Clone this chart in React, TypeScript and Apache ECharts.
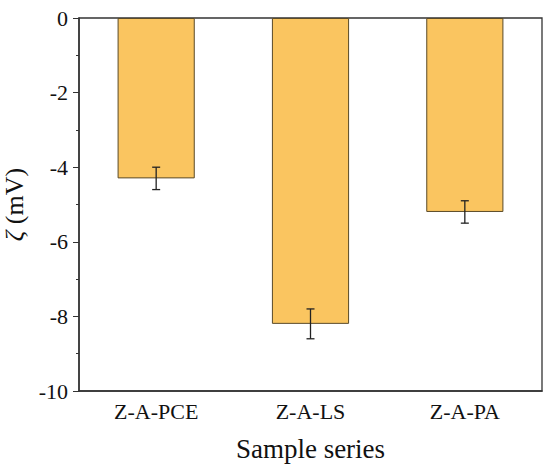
import React, { useEffect, useRef } from "react";
import * as echarts from "echarts";

const categories = ["Z-A-PCE", "Z-A-LS", "Z-A-PA"];
const zetaValues = [-4.3, -8.2, -5.2];
const zetaErrors = [0.3, 0.4, 0.3];
const yTicks = { min: -10, max: 0, interval: 2 };

const FONT = "'Liberation Serif', 'DejaVu Serif', serif";

export default function App() {
  const ref = useRef<HTMLDivElement>(null);
  useEffect(() => {
    if (!ref.current) return;
    const chart = echarts.init(ref.current, undefined, { renderer: "svg" });
    const errData = zetaValues.map((v, i) => [i, v - zetaErrors[i], v + zetaErrors[i]]);
    chart.setOption({
      animation: false,
      backgroundColor: "#fff",
      grid: {
        left: 79,
        top: 18,
        right: 8,
        bottom: 81,
        containLabel: false,
        outerBoundsMode: "none",
        show: true,
        borderColor: "#333",
        borderWidth: 1.3,
      },
      xAxis: {
        type: "category",
        data: categories,
        axisLine: { onZero: false, lineStyle: { color: "#333", width: 1.5 } },
        axisTick: { alignWithLabel: true, length: 5, lineStyle: { color: "#333" } },
        axisLabel: { color: "#111", fontFamily: FONT, fontSize: 22, margin: 9 },
        name: "Sample series",
        nameLocation: "middle",
        nameGap: 44,
        nameTextStyle: { color: "#111", fontFamily: FONT, fontSize: 27 },
      },
      yAxis: {
        type: "value",
        min: yTicks.min,
        max: yTicks.max,
        interval: yTicks.interval,
        splitLine: { show: false },
        axisLine: { show: true, lineStyle: { color: "#333", width: 1.5 } },
        axisTick: { show: true, length: 6, lineStyle: { color: "#333" } },
        minorTick: { show: true, splitNumber: 2, length: 3, lineStyle: { color: "#333" } },
        axisLabel: { color: "#111", fontFamily: FONT, fontSize: 22, margin: 11 },
        name: "{i|ζ} (mV)",
        nameLocation: "middle",
        nameGap: 48,
        nameRotate: 90,
        nameTextStyle: {
          color: "#111",
          fontFamily: FONT,
          fontSize: 26,
          rich: { i: { fontStyle: "italic", fontFamily: FONT, fontSize: 26, color: "#111" } },
        },
      },
      series: [
        {
          type: "bar",
          data: zetaValues,
          barWidth: "50%",
          itemStyle: { color: "#FAC560", borderColor: "#5a4a28", borderWidth: 1 },
        },
        {
          type: "custom",
          data: errData,
          z: 10,
          renderItem: (params: any, api: any) => {
            const x = api.value(0);
            const lo = api.coord([x, api.value(1)]);
            const hi = api.coord([x, api.value(2)]);
            const w = 4;
            const style = { stroke: "#222", lineWidth: 1.3 };
            return {
              type: "group",
              children: [
                { type: "line", shape: { x1: lo[0], y1: lo[1], x2: hi[0], y2: hi[1] }, style },
                { type: "line", shape: { x1: lo[0] - w, y1: lo[1], x2: lo[0] + w, y2: lo[1] }, style },
                { type: "line", shape: { x1: hi[0] - w, y1: hi[1], x2: hi[0] + w, y2: hi[1] }, style },
              ],
            };
          },
        },
      ],
    });
    return () => chart.dispose();
  }, []);
  return (
    <div
      ref={ref}
      style={{ position: "absolute", left: 0, top: 0, width: 550, height: 472 }}
    />
  );
}
